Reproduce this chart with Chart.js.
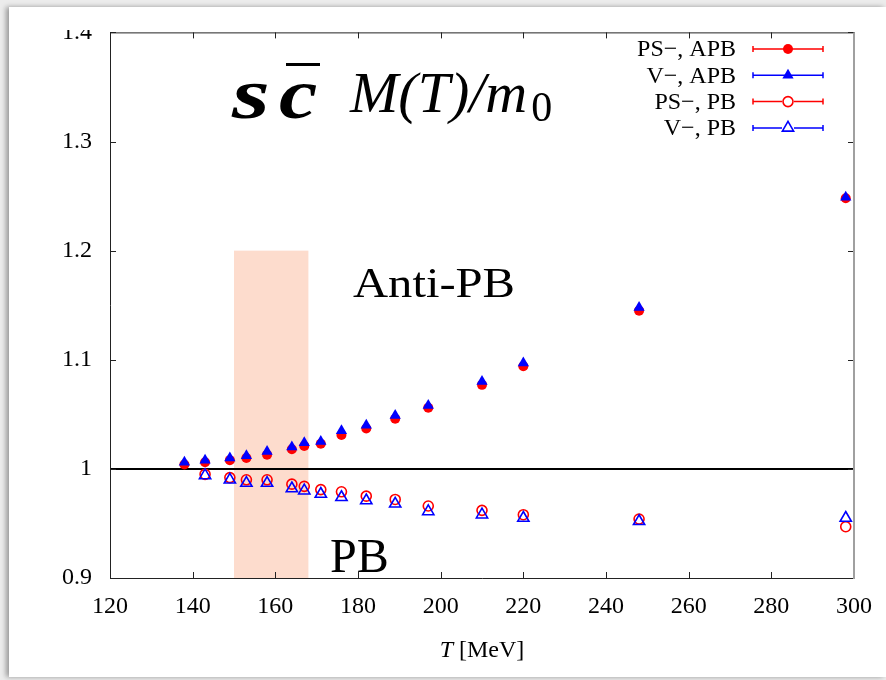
<!DOCTYPE html>
<html>
<head>
<meta charset="utf-8">
<script src="https://cdn.jsdelivr.net/npm/chart.js@4/dist/chart.umd.min.js"></script>
<style>
  html, body { margin: 0; padding: 0; width: 886px; height: 680px; overflow: hidden; background: #ececec; }
  #frame { position: absolute; left: 9px; top: 7px; width: 877px; height: 670px; background: #fff;
           box-shadow: -3px 0 5px rgba(0,0,0,0.35); }
  #c { position: absolute; left: 0; top: 0; }
</style>
</head>
<body>
<div id="frame"></div>
<canvas id="c" width="886" height="680"></canvas>
<script>
// temperatures in MeV
const temps = [138, 143, 149, 153, 158, 164, 167, 171, 176, 182, 189, 197, 210, 220, 248, 298];

// M(T)/m0, antiperiodic boundary conditions
const psApb = [1.004, 1.006, 1.008, 1.010, 1.013, 1.018, 1.021, 1.023, 1.031, 1.037, 1.046, 1.056, 1.077, 1.094, 1.145, 1.248];
const vApb  = [1.006, 1.008, 1.010, 1.012, 1.016, 1.020, 1.024, 1.025, 1.035, 1.040, 1.049, 1.058, 1.080, 1.097, 1.148, 1.249];

// M(T)/m0, periodic boundary conditions (no point at the lowest T)
const psPb = [null, 0.995, 0.992, 0.990, 0.990, 0.986, 0.984, 0.981, 0.979, 0.975, 0.972, 0.966, 0.962, 0.958, 0.954, 0.947];
const vPb  = [null, 0.994, 0.990, 0.987, 0.987, 0.982, 0.980, 0.977, 0.974, 0.971, 0.968, 0.961, 0.958, 0.955, 0.952, 0.955];

const xTicks = [120, 140, 160, 180, 200, 220, 240, 260, 280, 300];
const yTicks = [0.9, 1.0, 1.1, 1.2, 1.3, 1.4];

// crossover band and reference level
const bandRange = [150, 168];
const bandTop = 1.2;
const refLevel = 1;

const RED = '#ff0000';
const BLUE = '#0000ff';
const SERIF = '"Liberation Serif", "Times New Roman", serif';

function pts(ys) {
    return temps.map((t, i) => ({ x: t, y: ys[i] })).filter(p => p.y !== null);
}

// legend rows, top to bottom
const legendItems = [
    { label: 'PS\u2212, APB', color: RED, shape: 'circle', filled: true },
    { label: 'V\u2212, APB', color: BLUE, shape: 'triangle', filled: true },
    { label: 'PS\u2212, PB', color: RED, shape: 'circle', filled: false },
    { label: 'V\u2212, PB', color: BLUE, shape: 'triangle', filled: false }
];

function drawMarker(ctx, shape, filled, color, x, y) {
    ctx.beginPath();
    if (shape === 'circle') {
        ctx.arc(x, y, 5, 0, Math.PI * 2);
    } else {
        const r = 6.5;
        ctx.moveTo(x, y - r);
        ctx.lineTo(x + r * Math.sin(2 * Math.PI / 3), y + r / 2);
        ctx.lineTo(x - r * Math.sin(2 * Math.PI / 3), y + r / 2);
        ctx.closePath();
    }
    if (filled) {
        ctx.fillStyle = color;
        ctx.fill();
    } else {
        ctx.strokeStyle = color;
        ctx.lineWidth = 1.6;
        ctx.stroke();
    }
}

// glyph stretched horizontally, for the heavy math letters
function wideGlyph(ctx, ch, x, y, sx) {
    ctx.save();
    ctx.translate(x, y);
    ctx.scale(sx, 1);
    ctx.fillText(ch, 0, 0);
    ctx.restore();
}

const backdrop = {
    id: 'backdrop',
    beforeDatasetsDraw(chart) {
        const ctx = chart.ctx;
        const x = chart.scales.x, y = chart.scales.y;
        const area = chart.chartArea;
        ctx.save();
        ctx.fillStyle = '#fddccd';
        const x0 = x.getPixelForValue(bandRange[0]);
        const x1 = x.getPixelForValue(bandRange[1]);
        const yt = y.getPixelForValue(bandTop);
        ctx.fillRect(x0, yt, x1 - x0, area.bottom - yt);

        const yr = y.getPixelForValue(refLevel);
        ctx.strokeStyle = '#000';
        ctx.lineWidth = 2;
        ctx.beginPath();
        ctx.moveTo(area.left, yr);
        ctx.lineTo(area.right, yr);
        ctx.stroke();
        ctx.restore();
    },
    afterDatasetsDraw(chart) {
        const ctx = chart.ctx;
        const x = chart.scales.x, y = chart.scales.y;
        const { left, right, top, bottom } = chart.chartArea;
        ctx.save();
        ctx.lineWidth = 1;
        ctx.strokeStyle = '#222';
        ctx.beginPath();
        ctx.moveTo(left + 0.5, top + 0.5);
        ctx.lineTo(left + 0.5, bottom + 0.5);
        ctx.lineTo(right, bottom + 0.5);
        ctx.moveTo(left, top + 0.5);
        ctx.lineTo(right, top + 0.5);
        // inward tick marks on all four sides
        xTicks.forEach(v => {
            const px = Math.round(x.getPixelForValue(v)) + 0.5;
            ctx.moveTo(px, bottom);
            ctx.lineTo(px, bottom - 6);
            ctx.moveTo(px, top);
            ctx.lineTo(px, top + 6);
        });
        yTicks.forEach(v => {
            const py = Math.round(y.getPixelForValue(v)) + 0.5;
            ctx.moveTo(left, py);
            ctx.lineTo(left + 6, py);
            ctx.moveTo(right, py);
            ctx.lineTo(right - 6, py);
        });
        ctx.stroke();
        ctx.strokeStyle = '#a0a0a0';
        ctx.lineWidth = 2;
        ctx.beginPath();
        ctx.moveTo(right, top);
        ctx.lineTo(right, bottom + 1);
        ctx.stroke();
        ctx.restore();
    },
    afterDraw(chart) {
        const ctx = chart.ctx;
        const area = chart.chartArea;
        ctx.save();

        // the top strip is trimmed, cutting the uppermost tick label
        ctx.fillStyle = '#fff';
        ctx.fillRect(9, 7, 877, 23);

        ctx.fillStyle = '#000';
        ctx.textAlign = 'left';
        ctx.textBaseline = 'alphabetic';

        // heading: s c-bar  M(T)/m0
        ctx.font = 'bold italic 72px ' + SERIF;
        wideGlyph(ctx, 's', 232, 118, 1.35);
        wideGlyph(ctx, 'c', 279, 118, 1.2);
        ctx.fillRect(286, 63, 34, 3);
        ctx.font = 'italic 58px ' + SERIF;
        ctx.fillText('M(T)/m', 350, 112);
        const mw = ctx.measureText('M(T)/m').width;
        ctx.font = '42px ' + SERIF;
        ctx.fillText('0', 350 + mw + 4, 121);

        // region labels
        ctx.font = '42px ' + SERIF;
        const aw = ctx.measureText('Anti-PB').width;
        ctx.save();
        ctx.translate(353, 297);
        ctx.scale(162 / aw, 1);
        ctx.fillText('Anti-PB', 0, 0);
        ctx.restore();
        ctx.font = '48px ' + SERIF;
        ctx.fillText('PB', 330, 572);

        // x axis title, italic T
        ctx.font = 'italic 24px ' + SERIF;
        const tw = ctx.measureText('T').width;
        ctx.font = '24px ' + SERIF;
        const rw = ctx.measureText(' [MeV]').width;
        const cx = (area.left + area.right) / 2 - (tw + rw) / 2;
        ctx.font = 'italic 24px ' + SERIF;
        ctx.fillText('T', cx, 657);
        ctx.font = '24px ' + SERIF;
        ctx.fillText(' [MeV]', cx + tw, 657);

        // legend with error-bar glyphs
        ctx.font = '24px ' + SERIF;
        ctx.textAlign = 'right';
        ctx.textBaseline = 'middle';
        legendItems.forEach((it, i) => {
            const ly = 49 + i * 26.3;
            ctx.fillStyle = '#000';
            ctx.fillText(it.label, 736, ly + 1);
            ctx.strokeStyle = it.color;
            ctx.lineWidth = 1.5;
            ctx.beginPath();
            ctx.moveTo(753, ly);
            ctx.lineTo(823, ly);
            ctx.moveTo(753, ly - 3);
            ctx.lineTo(753, ly + 3);
            ctx.moveTo(823, ly - 3);
            ctx.lineTo(823, ly + 3);
            ctx.stroke();
            if (!it.filled) {
                ctx.fillStyle = '#fff';
                ctx.fillRect(782, ly - 5, 12, 10);
            }
            drawMarker(ctx, it.shape, it.filled, it.color, 788, ly);
        });
        ctx.restore();
    }
};

const ctx = document.getElementById('c').getContext('2d');
new Chart(ctx, {
    type: 'scatter',
    data: {
        // triangles listed first so they sit on top of the circles
        datasets: [
            {
                label: 'V\u2212, PB',
                data: pts(vPb),
                pointStyle: 'triangle',
                pointRadius: 6.5,
                borderColor: BLUE,
                backgroundColor: 'rgba(0,0,0,0)',
                borderWidth: 1.6
            },
            {
                label: 'PS\u2212, PB',
                data: pts(psPb),
                pointStyle: 'circle',
                pointRadius: 5,
                borderColor: RED,
                backgroundColor: 'rgba(0,0,0,0)',
                borderWidth: 1.6
            },
            {
                label: 'V\u2212, APB',
                data: pts(vApb),
                pointStyle: 'triangle',
                pointRadius: 6.5,
                borderColor: BLUE,
                backgroundColor: BLUE,
                borderWidth: 0
            },
            {
                label: 'PS\u2212, APB',
                data: pts(psApb),
                pointStyle: 'circle',
                pointRadius: 5,
                borderColor: RED,
                backgroundColor: RED,
                borderWidth: 0
            }
        ]
    },
    options: {
        responsive: false,
        animation: false,
        devicePixelRatio: 1,
        layout: { padding: { top: 31, right: 31, left: 0, bottom: 0 } },
        plugins: {
            legend: { display: false },
            tooltip: { enabled: false }
        },
        scales: {
            x: {
                type: 'linear',
                min: 120,
                max: 300,
                afterBuildTicks: s => { s.ticks = xTicks.map(v => ({ value: v })); },
                ticks: {
                    font: { family: SERIF, size: 24 },
                    color: '#000',
                    padding: 14,
                    maxRotation: 0,
                    callback: v => String(v)
                },
                grid: { display: false, drawTicks: false },
                border: { display: false },
                afterFit: s => { s.height = 102; }
            },
            y: {
                min: 0.9,
                max: 1.4,
                afterBuildTicks: s => { s.ticks = yTicks.map(v => ({ value: v })); },
                ticks: {
                    font: { family: SERIF, size: 24 },
                    color: '#000',
                    padding: 18,
                    callback: v => String(+v.toFixed(1))
                },
                grid: { display: false, drawTicks: false },
                border: { display: false },
                afterFit: s => { s.width = 110; }
            }
        }
    },
    plugins: [backdrop]
});
</script>
</body>
</html>
